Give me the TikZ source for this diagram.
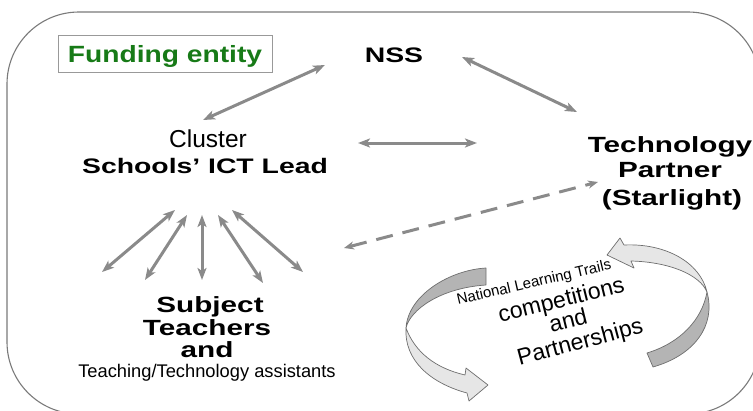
\documentclass[tikz,border=0pt]{standalone}
\usepackage{fontspec}
\setmainfont{Liberation Sans}
\newfontfamily\wideA{Liberation Sans}[FakeStretch=1.35]
\newfontfamily\wideB{Liberation Sans}[FakeStretch=1.2]
\usetikzlibrary{arrows.meta}
\definecolor{agray}{HTML}{8A8A8A}
\definecolor{fgreen}{HTML}{177A17}
\definecolor{framegray}{HTML}{7A7A7A}
\definecolor{ribdark}{HTML}{B4B4B4}
\definecolor{riblight}{HTML}{E6E6E6}
\definecolor{ribline}{HTML}{6E6E6E}
\tikzset{
  frameline/.style={draw=framegray, line width=1.1pt},
  conn/.style={draw=agray, line width=3pt,
    {Stealth[length=12pt,width=9pt,inset=3pt]}-{Stealth[length=12pt,width=9pt,inset=3pt]}},
  dconn/.style={draw=agray, line width=3pt, dash pattern=on 17pt off 10pt,
    {Stealth[length=10pt,width=8pt,inset=3pt]}-{Stealth[length=10pt,width=8pt,inset=3pt]}},
  ribD/.style={fill=ribdark, draw=ribline, line width=0.7pt, line join=round},
  ribL/.style={fill=riblight, draw=ribline, line width=0.7pt, line join=round},
  bigb/.style={anchor=base, inner sep=0pt, font=\wideA\bfseries\fontsize{21}{25}\selectfont},
  subjb/.style={anchor=base, inner sep=0pt, font=\wideA\bfseries\fontsize{22}{26}\selectfont},
  techb/.style={anchor=base, inner sep=0pt, font=\wideA\bfseries\fontsize{22}{26}\selectfont},
  reg/.style={anchor=base, inner sep=0pt},
  fundbox/.style={draw=gray!80, line width=0.8pt, minimum width=214pt, minimum height=37pt,
    inner sep=0pt, text height=17pt, text depth=0pt, text=fgreen,
    font=\wideB\bfseries\fontsize{23.5}{28}\selectfont}
}
\begin{document}
\begin{tikzpicture}[x=1pt,y=-1pt]
\useasboundingbox (0,0) rectangle (753,410);
\begin{scope}
  \clip (0,0) rectangle (753,410);
  \draw[frameline, rounded corners=72pt] (7,12) rectangle (760,414);
\end{scope}

% funding entity box
\node[fundbox] (fund) at (165,53.5) {Funding entity};

% texts
\node[bigb] (nss) at (394,62) {NSS};
\node[reg, font=\fontsize{24.5}{28}\selectfont] (cluster) at (208,147) {Cluster};
\node[bigb] (ict) at (205,173) {Schools’ ICT Lead};
\node[techb] (tech1) at (670,152) {Technology};
\node[techb] (tech2) at (670,177) {Partner};
\node[techb] (tech3) at (672,205) {(Starlight)};
\node[subjb] (subj1) at (210,312) {Subject};
\node[subjb] (subj2) at (207,335) {Teachers};
\node[subjb] (subj3) at (207,357) {and};
\node[reg, font=\fontsize{18.3}{21}\selectfont] (subj4) at (207,377) {Teaching/Technology assistants};

% connector end points
\coordinate (nssL) at (325,65);
\coordinate (nssR) at (462,57);
\coordinate (clTop) at (203,120);
\coordinate (clRight) at (358,143);
\coordinate (tpLeft) at (477,143);
\coordinate (tpTop) at (577,112);
\coordinate (tpLow) at (598,182);
\coordinate (stRight) at (344,248);
\coordinate (fa1) at (175,210);
\coordinate (fa2) at (187,215);
\coordinate (fa3) at (202,215);
\coordinate (fa4) at (218,215);
\coordinate (fa5) at (232,210);
\coordinate (fb1) at (102,272);
\coordinate (fb2) at (145,280);
\coordinate (fb3) at (202,280);
\coordinate (fb4) at (263,283);
\coordinate (fb5) at (303,272);

\draw[conn] (clTop) -- (nssL);
\draw[conn] (nssR) -- (tpTop);
\draw[conn] (clRight) -- (tpLeft);
\draw[dconn] (stRight) -- (tpLow);
\draw[conn] (fa1) -- (fb1);
\draw[conn] (fa2) -- (fb2);
\draw[conn] (fa3) -- (fb3);
\draw[conn] (fa4) -- (fb4);
\draw[conn] (fa5) -- (fb5);

% curved ribbon arrows
\draw[ribD] (486,268) .. controls (450,270) and (408,295) .. (406,328)
  .. controls (410,310) and (440,288) .. (486,285) -- cycle;
\draw[ribL] (406,328) .. controls (404,360) and (430,383) .. (467,393)
  -- (469,401) -- (488,385) -- (466,368) -- (465,375)
  .. controls (435,368) and (415,352) .. (406,328) -- cycle;
\draw[ribL] (607,255) -- (620,238) -- (624,245)
  .. controls (665,243) and (700,262) .. (707,292)
  .. controls (700,275) and (670,262) .. (631,261) -- (634,268) -- cycle;
\draw[ribD] (707,292) .. controls (716,325) and (695,355) .. (653,367)
  -- (647,353) .. controls (680,343) and (702,320) .. (707,292) -- cycle;

% rotated centre texts
\node[reg, rotate=13, font=\fontsize{15}{18}\selectfont] (nlt) at (535,287) {National Learning Trails};
\node[reg, rotate=14, font=\fontsize{23}{27}\selectfont] (comp) at (563,307) {competitions};
\node[reg, rotate=14, font=\fontsize{23}{27}\selectfont] (cand) at (570,328) {and};
\node[reg, rotate=15, font=\fontsize{23}{27}\selectfont] (part) at (582,349) {Partnerships};
\end{tikzpicture}
\end{document}
